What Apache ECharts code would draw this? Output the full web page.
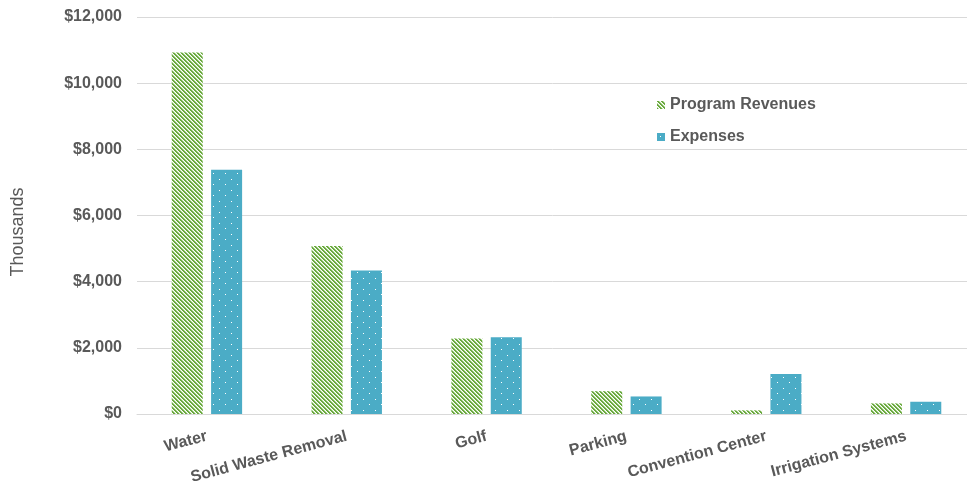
<!DOCTYPE html>
<html>
<head>
<meta charset="utf-8">
<script src="https://cdn.jsdelivr.net/npm/echarts@6/dist/echarts.min.js"></script>
<style>
html,body{margin:0;padding:0;background:#fff;}
#chart{width:967px;height:487px;}
</style>
</head>
<body>
<div id="chart"></div>
<script>
var categories = ['Water', 'Solid Waste Removal', 'Golf', 'Parking', 'Convention Center', 'Irrigation Systems'];
var programRevenues = [10930, 5080, 2280, 690, 110, 320];
var expenses = [7380, 4340, 2320, 530, 1210, 370];
var yTicks = { min: 0, max: 12000, interval: 2000 };

function stripePattern() {
  var c = document.createElement('canvas');
  c.width = 4; c.height = 4;
  var ctx = c.getContext('2d');
  ctx.fillStyle = '#ffffff';
  ctx.fillRect(0, 0, 4, 4);
  for (var y = 0; y < 4; y++) {
    for (var x = 0; x < 4; x++) {
      var d = ((x - y) % 4 + 4) % 4;
      if (d === 0 || d === 1) { ctx.fillStyle = '#6aaa3e'; ctx.fillRect(x, y, 1, 1); }
      else if (d === 2) { ctx.fillStyle = '#c6e0b4'; ctx.fillRect(x, y, 1, 1); }
    }
  }
  return c;
}
function dotPattern() {
  var c = document.createElement('canvas');
  c.width = 12; c.height = 11;
  var ctx = c.getContext('2d');
  ctx.fillStyle = '#4BACC6';
  ctx.fillRect(0, 0, 12, 11);
  ctx.fillStyle = '#ffffff';
  ctx.fillRect(3, 3, 1, 1);
  ctx.fillRect(9, 8, 1, 1);
  return c;
}

var chart = echarts.init(document.getElementById('chart'), null, { renderer: 'canvas' });
var labelColor = '#595959';
chart.setOption({
  animation: false,
  backgroundColor: '#ffffff',
  grid: { left: 137, width: 839, top: 17, bottom: 73, containLabel: false, outerBoundsMode: 'none' },
  legend: {
    orient: 'vertical',
    left: 652,
    top: 92,
    itemWidth: 8,
    itemHeight: 8,
    itemGap: 16,
    icon: 'rect',
    textStyle: { color: labelColor, fontSize: 16, fontWeight: 'bold', fontFamily: 'Liberation Sans, Arial, sans-serif', lineHeight: 16 },
    data: ['Program Revenues', 'Expenses']
  },
  graphic: [{
    type: 'text',
    x: 18, y: 232,
    rotation: Math.PI / 2,
    style: {
      text: 'Thousands',
      fill: labelColor,
      font: '18px "Liberation Sans", Arial, sans-serif',
      align: 'center',
      verticalAlign: 'middle'
    }
  }],
  xAxis: {
    type: 'category',
    data: categories,
    axisLine: { show: true, lineStyle: { color: '#d9d9d9', width: 1 } },
    axisTick: { show: false },
    axisLabel: {
      interval: 0,
      rotate: 15,
      margin: 22,
      color: labelColor,
      fontSize: 16,
      fontWeight: 'bold',
      fontFamily: 'Liberation Sans, Arial, sans-serif'
    }
  },
  yAxis: {
    type: 'value',
    min: yTicks.min,
    max: yTicks.max,
    interval: yTicks.interval,
    axisLine: { show: false },
    axisTick: { show: false },
    splitLine: { lineStyle: { color: '#d9d9d9', width: 1 } },
    axisLabel: {
      margin: 15,
      color: labelColor,
      fontSize: 16,
      fontWeight: 'bold',
      fontFamily: 'Liberation Sans, Arial, sans-serif',
      formatter: function (v) { return '$' + v.toLocaleString('en-US'); }
    }
  },
  series: [
    {
      name: 'Program Revenues',
      type: 'bar',
      data: programRevenues,
      barWidth: 31,
      barGap: '27%',
      itemStyle: { color: { image: stripePattern(), repeat: 'repeat' } }
    },
    {
      name: 'Expenses',
      type: 'bar',
      data: expenses,
      barWidth: 31,
      itemStyle: { color: { image: dotPattern(), repeat: 'repeat' } }
    }
  ]
});
</script>
</body>
</html>
